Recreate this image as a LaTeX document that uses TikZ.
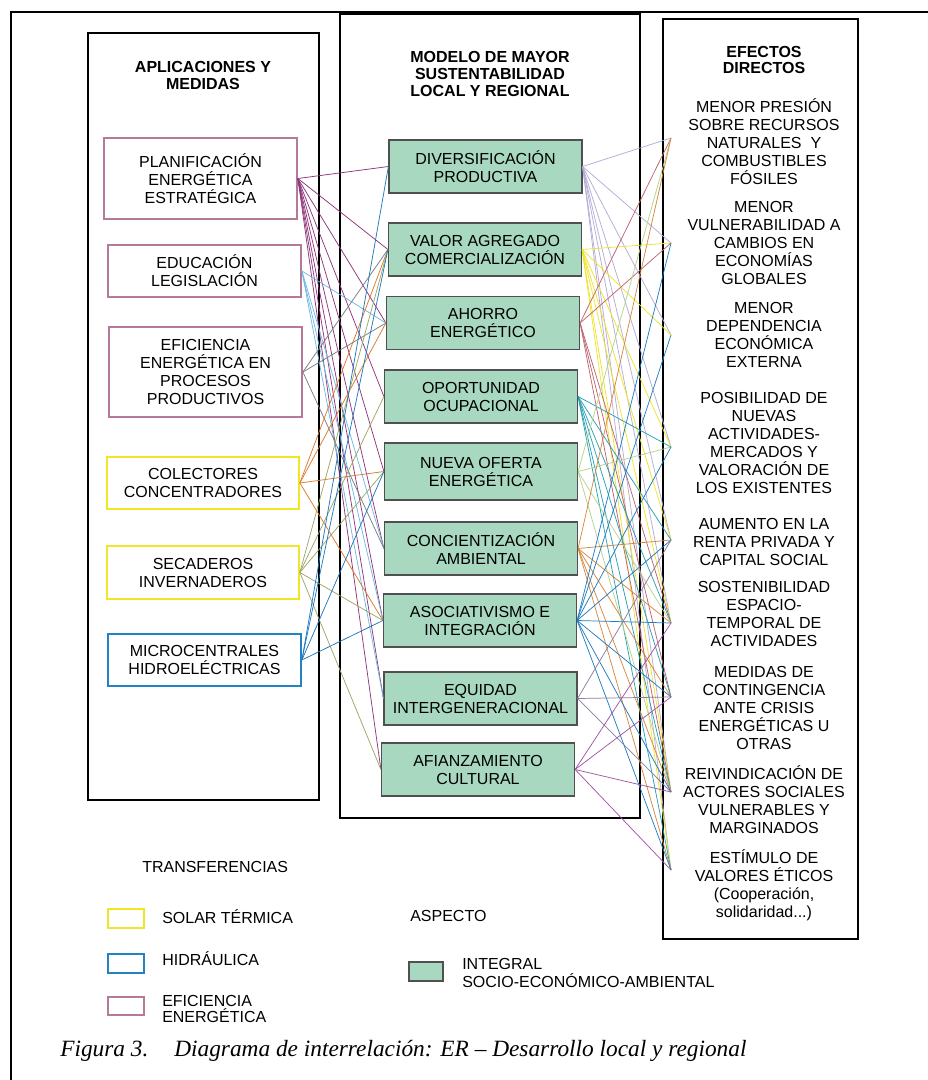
\documentclass[tikz,border=0pt]{standalone}
\usepackage{fontspec}
\setmainfont{Liberation Sans}
\newfontfamily\capfont{Liberation Serif}
\definecolor{mauve}{RGB}{180,122,152}
\definecolor{yel}{RGB}{240,230,40}
\definecolor{hblue}{RGB}{35,130,195}
\definecolor{mint}{RGB}{168,216,192}
\definecolor{gborder}{RGB}{80,80,80}
\definecolor{cplan}{RGB}{142,52,122}
\definecolor{ceduc}{RGB}{110,185,225}
\definecolor{cefic}{RGB}{120,125,125}
\definecolor{ccol}{RGB}{222,120,40}
\definecolor{csec}{RGB}{155,168,100}
\definecolor{cmic}{RGB}{30,120,190}
\definecolor{cdiv}{RGB}{180,172,214}
\definecolor{cva}{RGB}{240,228,40}
\definecolor{cah}{RGB}{190,100,110}
\definecolor{cop}{RGB}{40,160,180}
\definecolor{cnu}{RGB}{180,212,140}
\definecolor{cco}{RGB}{215,135,60}
\definecolor{cas}{RGB}{30,125,195}
\definecolor{ceq}{RGB}{140,125,160}
\definecolor{caf}{RGB}{160,85,165}
\begin{document}
\begin{tikzpicture}[x=0.75pt,y=-0.75pt,
  txt/.style={font=\fontsize{12}{13.5}\selectfont, align=center, inner sep=0pt},
  hdr/.style={font=\fontsize{12}{12.5}\selectfont\bfseries, align=center, inner sep=0pt},
  lbox/.style={draw=#1, line width=1.3pt, txt, minimum width=144.75pt},
  gbox/.style={draw=gborder, fill=mint, line width=0.9pt, txt, minimum width=144.75pt, minimum height=39.75pt},
  colbox/.style={draw=black, line width=2pt, inner sep=0pt},
  con/.style={draw=#1, line width=0.55pt},
  legbox/.style={draw=#1, line width=1.2pt, inner sep=0pt, minimum width=27pt, minimum height=14.25pt},
  captxt/.style={anchor=base west, inner sep=0pt, font=\capfont\itshape\fontsize{17.5}{20}\selectfont},
]
\useasboundingbox (0,0) rectangle (927,1080);
\fill[white] (0,0) rectangle (927,1080);
% outer frame
\draw[line width=0.8pt] (11,1095) -- (11,12) -- (945,12);

% columns
\node[colbox, minimum width=173.25pt, minimum height=575.25pt] (lcol) at (203.5,416.5) {};
\node[colbox, minimum width=225pt, minimum height=603pt] (mcol) at (490,416) {};
\draw[line width=3pt] (mcol.north west) -- (mcol.north east);
\node[colbox, minimum width=146.25pt, minimum height=690pt] (rcol) at (760.5,479) {};

% headers
\node[hdr] (h1) at (203,75.5) {APLICACIONES Y\\MEDIDAS};
\node[hdr] (h2) at (490,74) {MODELO DE MAYOR\\SUSTENTABILIDAD\\LOCAL Y REGIONAL};
\node[hdr] (h3) at (764,60) {EFECTOS\\DIRECTOS};

% left boxes
\node[lbox=mauve, minimum height=60.75pt] (plan) at (200.5,178.5) {PLANIFICACIÓN\\ENERGÉTICA\\ESTRATÉGICA};
\node[lbox=mauve, minimum height=39pt] (educ) at (204.5,271) {EDUCACIÓN\\LEGISLACIÓN};
\node[lbox=mauve, minimum height=67.5pt] (efic) at (205.5,372) {EFICIENCIA\\ENERGÉTICA EN\\PROCESOS\\PRODUCTIVOS};
\node[lbox=yel, minimum width=144pt, minimum height=39pt] (colec) at (203,483) {COLECTORES\\CONCENTRADORES};
\node[lbox=yel, minimum width=144pt, minimum height=39.75pt] (secad) at (203,572.5) {SECADEROS\\INVERNADEROS};
\node[lbox=hblue, minimum height=39pt] (micro) at (204.5,660) {MICROCENTRALES\\HIDROELÉCTRICAS};

% middle boxes
\node[gbox] (m1) at (485.5,166.5) {DIVERSIFICACIÓN\\PRODUCTIVA};
\node[gbox] (m2) at (485,249.5) {VALOR AGREGADO\\COMERCIALIZACIÓN};
\node[gbox] (m3) at (483,323) {AHORRO\\ENERGÉTICO};
\node[gbox] (m4) at (481,396.5) {OPORTUNIDAD\\OCUPACIONAL};
\node[gbox, minimum height=42.75pt] (m5) at (481,471.5) {NUEVA OFERTA\\ENERGÉTICA};
\node[gbox] (m6) at (481,548.5) {CONCIENTIZACIÓN\\AMBIENTAL};
\node[gbox] (m7) at (480,620.5) {ASOCIATIVISMO E\\INTEGRACIÓN};
\node[gbox] (m8) at (480.5,698.5) {EQUIDAD\\INTERGENERACIONAL};
\node[gbox] (m9) at (478,769.5) {AFIANZAMIENTO\\CULTURAL};

% right texts
\node[txt] (e1) at (764,141.5) {MENOR PRESIÓN\\SOBRE RECURSOS\\NATURALES~ Y\\COMBUSTIBLES\\FÓSILES};
\node[txt] (e2) at (764,242.5) {MENOR\\VULNERABILIDAD A\\CAMBIOS EN\\ECONOMÍAS\\GLOBALES};
\node[txt] (e3) at (764,334.5) {MENOR\\DEPENDENCIA\\ECONÓMICA\\EXTERNA};
\node[txt] (e4) at (764,443) {POSIBILIDAD DE\\NUEVAS\\ACTIVIDADES-\\MERCADOS Y\\VALORACIÓN DE\\LOS EXISTENTES};
\node[txt] (e5) at (764,541.5) {AUMENTO EN LA\\RENTA PRIVADA Y\\CAPITAL SOCIAL};
\node[txt] (e6) at (764,613.5) {SOSTENIBILIDAD\\ESPACIO-\\TEMPORAL DE\\ACTIVIDADES};
\node[txt] (e7) at (764,707.5) {MEDIDAS DE\\CONTINGENCIA\\ANTE CRISIS\\ENERGÉTICAS U\\OTRAS};
\node[txt] (e8) at (764,799.5) {REIVINDICACIÓN DE\\ACTORES SOCIALES\\VULNERABLES Y\\MARGINADOS};
\node[txt] (e9) at (764,885.5) {ESTÍMULO DE\\VALORES ÉTICOS\\(Cooperación,\\solidaridad...)};

% right connection points
\coordinate (r1) at (671,138);
\coordinate (r2) at (671,243);
\coordinate (r3) at (671,335);
\coordinate (r4) at (671,447);
\coordinate (r5) at (671,540);
\coordinate (r6) at (671,623);
\coordinate (r7) at (671,697);
\coordinate (r8) at (671,792);
\coordinate (r9) at (671,870);

% left connectors
\foreach \t in {m1,m2,m3,m4,m5,m6,m7,m8,m9} \draw[con=cplan] (plan.east) -- (\t.west);
\foreach \t in {m3,m6,m7,m8} \draw[con=ceduc] (educ.east) -- (\t.west);
\foreach \t in {m2,m3,m6} \draw[con=cefic] (efic.east) -- (\t.west);
\foreach \t in {m2,m3,m5,m7} \draw[con=ccol] (colec.east) -- (\t.west);
\foreach \t in {m2,m4,m5,m7,m9} \draw[con=csec] (secad.east) -- (\t.west);
\foreach \t in {m1,m2,m5,m7} \draw[con=cmic] (micro.east) -- (\t.west);

% right connectors
\foreach \t in {r1,r2,r3,r4,r5,r6,r8,r9} \draw[con=cdiv] (m1.east) -- (\t);
\foreach \t in {r2,r3,r4,r5,r6,r8,r9} \draw[con=cva] (m2.east) -- (\t);
\foreach \t in {r1,r2,r6,r7,r8} \draw[con=cah] (m3.east) -- (\t);
\foreach \t in {r4,r5,r6,r7,r8,r9} \draw[con=cop] (m4.east) -- (\t);
\foreach \t in {r1,r4,r6,r8} \draw[con=cnu] (m5.east) -- (\t);
\foreach \t in {r1,r5,r6,r7,r8,r9} \draw[con=cco] (m6.east) -- (\t);
\foreach \t in {r2,r3,r4,r5,r6,r7,r8,r9} \draw[con=cas] (m7.east) -- (\t);
\foreach \t in {r5,r7,r8} \draw[con=ceq] (m8.east) -- (\t);
\foreach \t in {r6,r7,r8,r9} \draw[con=caf] (m9.east) -- (\t);

% legend
\node[txt, anchor=west] (ltr) at (142,867) {TRANSFERENCIAS};
\node[legbox=yel] (lg1) at (126,918.5) {};
\node[txt, anchor=west] (lt1) at (162,917) {SOLAR TÉRMICA};
\node[legbox=hblue] (lg2) at (126,963.5) {};
\node[txt, anchor=west] (lt2) at (162,959) {HIDRÁULICA};
\node[legbox=mauve, minimum height=13.5pt] (lg3) at (126,1006) {};
\node[txt, anchor=west, align=left, font=\fontsize{12}{12.5}\selectfont] (lt3) at (162,1009) {EFICIENCIA\\ENERGÉTICA};
\node[txt, anchor=west] (lasp) at (410,916) {ASPECTO};
\node[draw=gborder, fill=mint, line width=0.9pt, inner sep=0pt, minimum width=25.5pt, minimum height=14.25pt] (lg4) at (426,971.5) {};
\node[txt, anchor=west, align=left] (lt4) at (462,972.5) {INTEGRAL\\SOCIO-ECONÓMICO-AMBIENTAL};

% caption
\node[captxt] (cap1) at (60,1056) {Figura 3.};
\node[captxt] (cap2) at (174,1056) {Diagrama de interrelación: ER – Desarrollo local y regional};
\end{tikzpicture}
\end{document}
